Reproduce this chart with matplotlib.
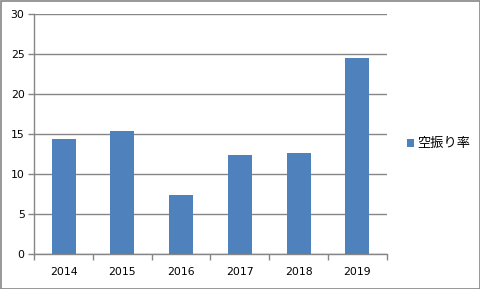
import matplotlib
matplotlib.use("Agg")
import matplotlib.pyplot as plt
from matplotlib.patches import Rectangle

plt.rcParams['font.family'] = ['DejaVu Sans', 'Noto Sans CJK JP']

years = ["2014", "2015", "2016", "2017", "2018", "2019"]
rates = [14.4, 15.4, 7.4, 12.4, 12.7, 24.5]
series_name = "空振り率"
yticks = [0, 5, 10, 15, 20, 25, 30]

bar_color = "#4F81BD"
grid_color = "#868686"

fig = plt.figure(figsize=(4.81, 2.89), dpi=100)
ax = fig.add_axes([34.3/481, 1-254.3/289, (386.7-34.3)/481, (254.3-14.3)/289])

x = list(range(len(years)))
bars = ax.bar(x, rates, width=0.41, color=bar_color, zorder=3, label=series_name)
ax.set_xlim(-0.5, len(years)-0.5)
ax.set_ylim(0, 30)
ax.set_yticks(yticks)
ax.set_yticklabels([str(v) for v in yticks], fontsize=7.8)
ax.set_xticks(x)
ax.set_xticklabels(years, fontsize=7.8)
ax.set_xticks([i - 0.5 for i in range(len(years)+1)], minor=True)
ax.tick_params(axis='x', which='major', length=0, pad=9)
ax.tick_params(axis='x', which='minor', length=4, color=grid_color, width=1)
ax.tick_params(axis='y', length=4, color=grid_color, width=1, pad=3)
ax.yaxis.grid(True, color=grid_color, linewidth=1, zorder=0)
for s in ['top', 'right']:
    ax.spines[s].set_visible(False)
for s in ['left', 'bottom']:
    ax.spines[s].set_color(grid_color)
    ax.spines[s].set_linewidth(1)

# legend
leg = ax.legend(loc='center left', bbox_to_anchor=(1.024, 0.46), frameon=False,
                handlelength=0.55, handleheight=0.55, handletextpad=0.25,
                prop={'family': ['Noto Sans CJK JP'], 'size': 9.5})

# outer border
fig.patches.append(Rectangle((0.5/481, 0.5/289), 479.5/481, 287.5/289, transform=fig.transFigure,
                             fill=False, edgecolor=grid_color, linewidth=1.2))

fig.savefig("out.png", dpi=100)
